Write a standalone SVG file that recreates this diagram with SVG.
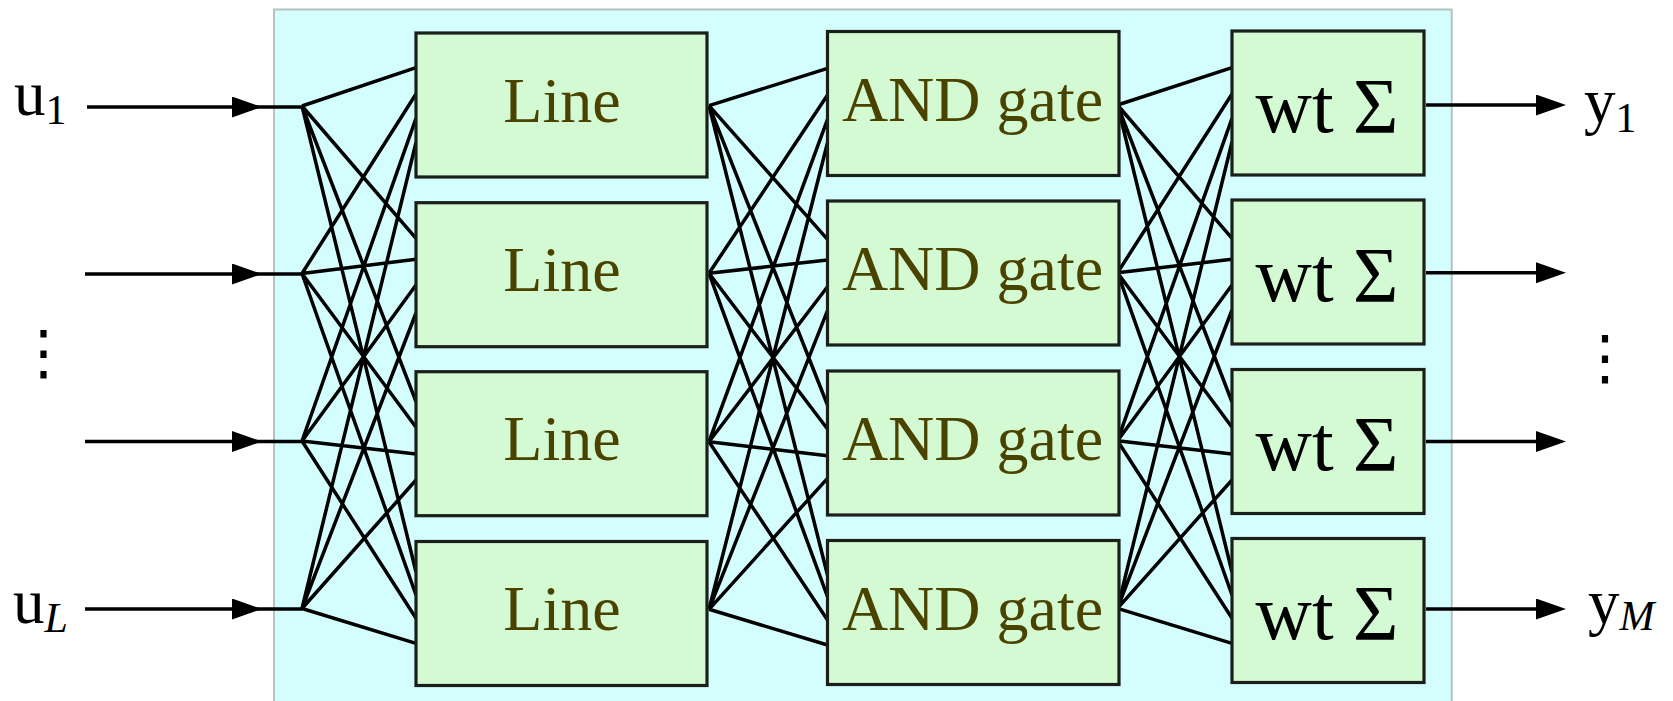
<svg xmlns="http://www.w3.org/2000/svg" width="1673" height="701" viewBox="0 0 1673 701">
<style>
.bg{fill:#d4fefe;stroke:#b6c2c2;stroke-width:2}
.box{fill:#d4fad4;stroke:#1a1f1a;stroke-width:3.2}
.ln{stroke:#000;stroke-width:3.5;fill:none}
.t1{font-family:"Liberation Serif","Times New Roman",serif;font-size:64px;fill:#4a4300;text-anchor:middle}
.t2{font-family:"Liberation Serif","Times New Roman",serif;font-size:78px;fill:#000;text-anchor:middle}
.lb{font-family:"Liberation Serif","Times New Roman",serif;font-size:63px;fill:#000}
.sb{font-size:42px}
.it{font-style:italic}
.dots{font-family:"DejaVu Serif","DejaVu Sans",serif;font-size:60px;fill:#000;text-anchor:middle}
</style>
<defs>
<marker id="ah" markerUnits="userSpaceOnUse" markerWidth="32" markerHeight="22" refX="20" refY="10.5" orient="auto">
<path d="M0,0 L30,10.5 L0,21 z" fill="#000"/>
</marker>
</defs>
<rect id="frame" class="bg" x="274" y="9.5" width="1177.7" height="720"/>
<g id="connectors">
<path class="ln" d="M87 107 H252" marker-end="url(#ah)"/>
<path class="ln" d="M85 274 H252" marker-end="url(#ah)"/>
<path class="ln" d="M85 441.5 H252" marker-end="url(#ah)"/>
<path class="ln" d="M85 609 H252" marker-end="url(#ah)"/>
<path class="ln" d="M252 107 H302 M252 274 H302 M252 441.5 H302 M252 609 H302"/>
<path class="ln" d="M302 106 L416 67.7 M302 106 L416 238.3 M302 106 L416 401.7 M302 106 L416 572
M302 273.5 L416 94 M302 273.5 L416 259.3 M302 273.5 L416 427.3 M302 273.5 L416 595
M302 441 L416 118.3 M302 441 L416 285 M302 441 L416 454 M302 441 L416 618.3
M302 608.5 L416 142.5 M302 608.5 L416 313 M302 608.5 L416 480 M302 608.5 L416 643.3"/>
<path class="ln" d="M709 105.7 L827.5 68.3 M709 105.7 L827.5 239.3 M709 105.7 L827.5 405 M709 105.7 L827.5 575
M709 273.3 L827.5 95 M709 273.3 L827.5 260 M709 273.3 L827.5 429 M709 273.3 L827.5 596.7
M709 441.7 L827.5 119.3 M709 441.7 L827.5 286.7 M709 441.7 L827.5 455.7 M709 441.7 L827.5 620
M709 609.3 L827.5 142.7 M709 609.3 L827.5 310.7 M709 609.3 L827.5 478.3 M709 609.3 L827.5 645"/>
<path class="ln" d="M1117.5 105 L1232 67.7 M1117.5 105 L1232 238.3 M1117.5 105 L1232 402 M1117.5 105 L1232 572
M1117.5 272.7 L1232 94 M1117.5 272.7 L1232 259.3 M1117.5 272.7 L1232 427.3 M1117.5 272.7 L1232 595
M1117.5 440.7 L1232 118.3 M1117.5 440.7 L1232 285 M1117.5 440.7 L1232 454 M1117.5 440.7 L1232 618.3
M1117.5 608.3 L1232 142 M1117.5 608.3 L1232 310 M1117.5 608.3 L1232 480 M1117.5 608.3 L1232 643.3"/>
<path class="ln" d="M1426 105 H1556" marker-end="url(#ah)"/>
<path class="ln" d="M1426 272.7 H1556" marker-end="url(#ah)"/>
<path class="ln" d="M1426 441.5 H1556" marker-end="url(#ah)"/>
<path class="ln" d="M1426 609 H1556" marker-end="url(#ah)"/>
</g>
<g id="line1"><rect class="box" x="416" y="33" width="291" height="144"/><text class="t1" x="562" y="121.7">Line</text></g>
<g id="line2"><rect class="box" x="416" y="202.7" width="291" height="144"/><text class="t1" x="562" y="291.4">Line</text></g>
<g id="line3"><rect class="box" x="416" y="371.7" width="291" height="144"/><text class="t1" x="562" y="460.4">Line</text></g>
<g id="line4"><rect class="box" x="416" y="541.5" width="291" height="144"/><text class="t1" x="562" y="630.2">Line</text></g>
<g id="and1"><rect class="box" x="827.5" y="31.5" width="291.5" height="144"/><text class="t1" x="972.5" y="120.7">AND gate</text></g>
<g id="and2"><rect class="box" x="827.5" y="201" width="291.5" height="144"/><text class="t1" x="972.5" y="290.2">AND gate</text></g>
<g id="and3"><rect class="box" x="827.5" y="371" width="291.5" height="144"/><text class="t1" x="972.5" y="460.2">AND gate</text></g>
<g id="and4"><rect class="box" x="827.5" y="540.5" width="291.5" height="144"/><text class="t1" x="972.5" y="629.7">AND gate</text></g>
<g id="sum1"><rect class="box" x="1232" y="31" width="192" height="144"/><text class="t2" x="1327" y="131.7">wt Σ</text></g>
<g id="sum2"><rect class="box" x="1232" y="200" width="192" height="144"/><text class="t2" x="1327" y="300.7">wt Σ</text></g>
<g id="sum3"><rect class="box" x="1232" y="369.5" width="192" height="144"/><text class="t2" x="1327" y="470.2">wt Σ</text></g>
<g id="sum4"><rect class="box" x="1232" y="538.5" width="192" height="144"/><text class="t2" x="1327" y="639.2">wt Σ</text></g>
<g id="labels">
<text class="lb" x="14" y="115">u<tspan class="sb" dy="9">1</tspan></text>
<text class="lb" x="13" y="623">u<tspan class="sb it" dy="9">L</tspan></text>
<text class="lb" x="1584" y="122">y<tspan class="sb" dy="10">1</tspan></text>
<text class="lb" x="1588" y="623">y<tspan class="sb it" dy="7">M</tspan></text>
<text class="dots" x="43.5" y="373">⋮</text>
<text class="dots" x="1605" y="378">⋮</text>
</g>
</svg>
